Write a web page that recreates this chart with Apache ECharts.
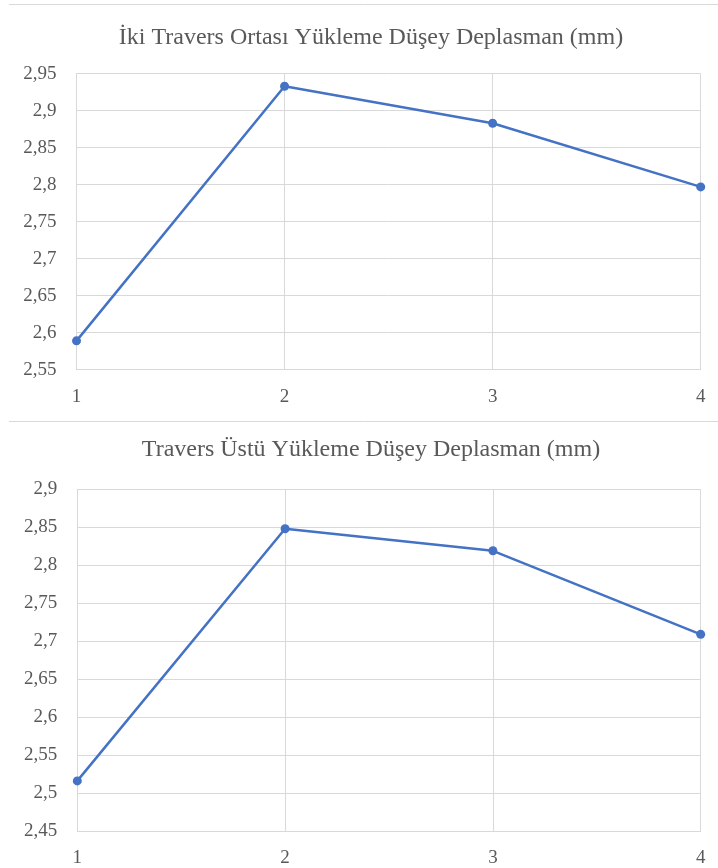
<!DOCTYPE html>
<html>
<head>
<meta charset="utf-8">
<script src="https://cdn.jsdelivr.net/npm/echarts@6/dist/echarts.min.js"></script>
<style>html,body{margin:0;padding:0;background:#fff}#c{width:718px;height:868px}</style>
</head>
<body>
<div id="c"></div>
<script>
const categories = ['1', '2', '3', '4'];
const title1 = 'İki Travers Ortası Yükleme Düşey Deplasman (mm)';
const title2 = 'Travers Üstü Yükleme Düşey Deplasman (mm)';
const values1 = [2.589, 2.933, 2.883, 2.797];
const values2 = [2.516, 2.848, 2.819, 2.709];
const yRange1 = [2.55, 2.95];
const yRange2 = [2.45, 2.9];
const yStep = 0.05;

const FONT = '"Liberation Serif", "DejaVu Serif", serif';
const TXT = '#595959';
const GRID = '#d9d9d9';
const BLUE = '#4472C4';

const fmt = v => (Math.round(v * 100) / 100).toString().replace('.', ',');

function xAxis(i) {
  return {
    type: 'category', gridIndex: i, data: categories, boundaryGap: false,
    axisLine: { show: true, lineStyle: { color: GRID, width: 1 } },
    axisTick: { show: false },
    axisLabel: { color: TXT, fontFamily: FONT, fontSize: 19, margin: 18 },
    splitLine: { show: true, lineStyle: { color: GRID, width: 1 } }
  };
}
function yAxis(i, r) {
  return {
    type: 'value', gridIndex: i, min: r[0], max: r[1], interval: yStep,
    axisLine: { show: true, lineStyle: { color: GRID, width: 1 } },
    axisTick: { show: false },
    axisLabel: { color: TXT, fontFamily: FONT, fontSize: 19, margin: 20, formatter: fmt },
    splitLine: { show: true, lineStyle: { color: GRID, width: 1 } }
  };
}
function series(i, d) {
  return {
    type: 'line', xAxisIndex: i, yAxisIndex: i, data: d,
    symbol: 'circle', symbolSize: 9,
    lineStyle: { color: BLUE, width: 2.5 },
    itemStyle: { color: BLUE }
  };
}

const chart = echarts.init(document.getElementById('c'), null, { renderer: 'canvas' });
chart.setOption({
  animation: false,
  backgroundColor: '#fff',
  title: [
    { text: title1, left: 366, top: 21, textAlign: 'center',
      textStyle: { color: TXT, fontFamily: FONT, fontSize: 24, fontWeight: 'normal' } },
    { text: title2, left: 366, top: 433, textAlign: 'center',
      textStyle: { color: TXT, fontFamily: FONT, fontSize: 24, fontWeight: 'normal' } }
  ],
  grid: [
    { left: 76.5, right: 17.3, top: 73.7, height: 296 },
    { left: 77.3, right: 17.3, top: 489.3, height: 341.7 }
  ],
  graphic: [
    { type: 'line', shape: { x1: 9, y1: 4.5, x2: 718, y2: 4.5 }, style: { stroke: GRID, lineWidth: 1 } },
    { type: 'line', shape: { x1: 9, y1: 421.5, x2: 718, y2: 421.5 }, style: { stroke: GRID, lineWidth: 1 } }
  ],
  xAxis: [xAxis(0), xAxis(1)],
  yAxis: [yAxis(0, yRange1), yAxis(1, yRange2)],
  series: [series(0, values1), series(1, values2)]
});
</script>
</body>
</html>
